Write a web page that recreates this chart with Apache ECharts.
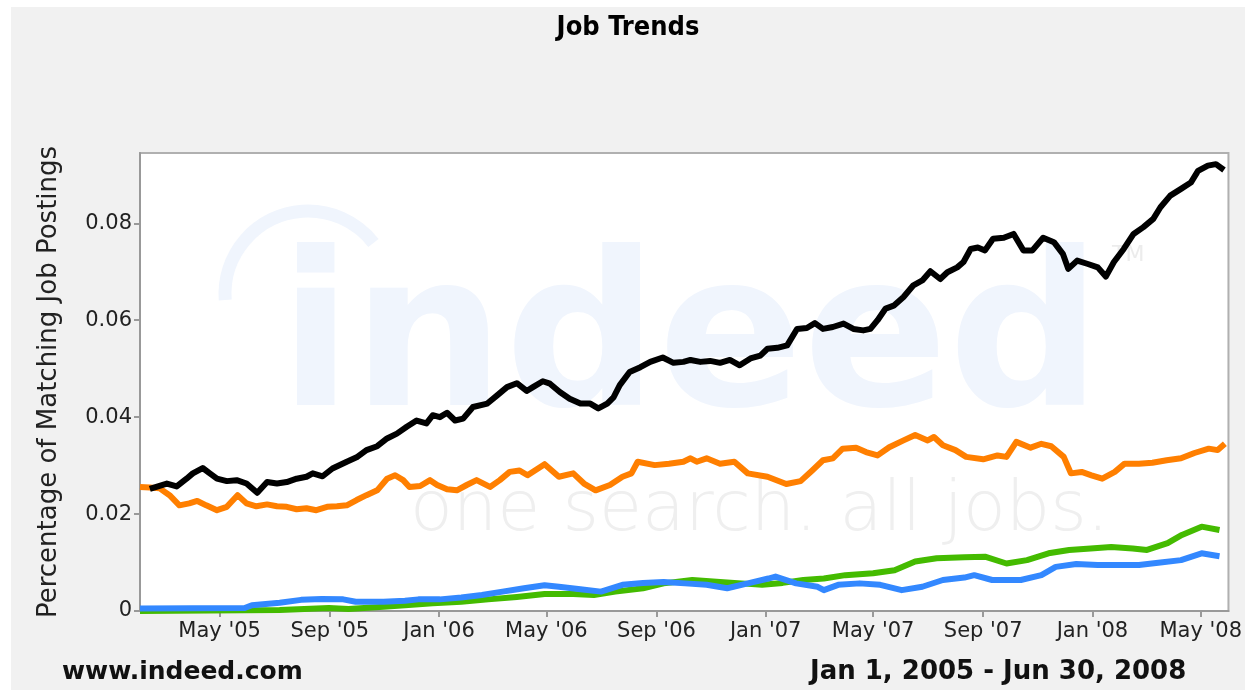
<!DOCTYPE html>
<html>
<head>
<meta charset="utf-8">
<script src="https://cdn.jsdelivr.net/npm/echarts@6/dist/echarts.min.js"></script>
<style>
html,body{margin:0;padding:0;background:#ffffff;width:1245px;height:690px;overflow:hidden;}
#c{position:absolute;left:11px;top:7px;width:1234px;height:683px;background:#f1f1f1;}
</style>
</head>
<body>
<div id="c"></div>
<script>
// ---- data ----
const titleText = 'Job Trends';
const yAxisTitle = 'Percentage of Matching Job Postings';
const siteText = 'www.indeed.com';
const rangeText = 'Jan 1, 2005 - Jun 30, 2008';

const xMinDate = '2005-02-01';
const xMaxDate = '2008-06-01';
const xTickDates = ['2005-05-01','2005-09-01','2006-01-01','2006-05-01','2006-09-01','2007-01-01','2007-05-01','2007-09-01','2008-01-01','2008-05-01'];
const xTickLabels = ["May '05","Sep '05","Jan '06","May '06","Sep '06","Jan '07","May '07","Sep '07","Jan '08","May '08"];
const yTicks = [0, 0.02, 0.04, 0.06, 0.08];
const yMax = 0.0945;

const blackPoints = [
['2005-02-12',0.0252],['2005-03-03',0.0263],['2005-03-14',0.0257],['2005-03-25',0.0273],['2005-04-01',0.0284],
['2005-04-12',0.0295],['2005-04-20',0.0284],['2005-04-28',0.0273],['2005-05-09',0.0268],['2005-05-20',0.0270],
['2005-05-31',0.0263],['2005-06-12',0.0244],['2005-06-23',0.0266],['2005-07-04',0.0263],['2005-07-15',0.0266],
['2005-07-26',0.0273],['2005-08-06',0.0277],['2005-08-13',0.0284],['2005-08-24',0.0278],['2005-09-04',0.0294],
['2005-09-20',0.0308],['2005-10-01',0.0317],['2005-10-12',0.0332],['2005-10-24',0.0340],['2005-11-04',0.0356],
['2005-11-15',0.0366],['2005-11-26',0.0380],['2005-12-07',0.0393],['2005-12-18',0.0387],['2005-12-25',0.0404],
['2006-01-02',0.0400],['2006-01-10',0.0409],['2006-01-19',0.0393],['2006-01-28',0.0397],['2006-02-08',0.0421],
['2006-02-24',0.0428],['2006-03-07',0.0445],['2006-03-18',0.0462],['2006-03-29',0.0470],['2006-04-09',0.0454],
['2006-04-16',0.0462],['2006-04-27',0.0474],['2006-05-05',0.0469],['2006-05-16',0.0452],['2006-05-27',0.0438],
['2006-06-08',0.0428],['2006-06-19',0.0428],['2006-06-28',0.0418],['2006-07-08',0.0428],['2006-07-15',0.0441],
['2006-07-22',0.0466],['2006-08-02',0.0493],['2006-08-14',0.0503],['2006-08-25',0.0514],['2006-09-08',0.0523],
['2006-09-20',0.0512],['2006-10-01',0.0514],['2006-10-09',0.0518],['2006-10-20',0.0514],['2006-10-31',0.0516],
['2006-11-11',0.0512],['2006-11-22',0.0518],['2006-12-03',0.0507],['2006-12-15',0.0521],['2006-12-26',0.0527],
['2007-01-03',0.0541],['2007-01-14',0.0543],['2007-01-25',0.0548],['2007-02-05',0.0582],['2007-02-16',0.0584],
['2007-02-25',0.0594],['2007-03-06',0.0582],['2007-03-17',0.0586],['2007-03-29',0.0593],['2007-04-09',0.0582],
['2007-04-20',0.0579],['2007-04-28',0.0582],['2007-05-06',0.0600],['2007-05-15',0.0624],['2007-05-24',0.0630],
['2007-06-04',0.0648],['2007-06-15',0.0672],['2007-06-25',0.0682],['2007-07-04',0.0701],['2007-07-15',0.0685],
['2007-07-23',0.0699],['2007-08-03',0.0709],['2007-08-10',0.0720],['2007-08-18',0.0747],['2007-08-26',0.0750],
['2007-09-03',0.0744],['2007-09-12',0.0768],['2007-09-24',0.0770],['2007-10-05',0.0778],['2007-10-16',0.0744],
['2007-10-26',0.0744],['2007-11-07',0.0770],['2007-11-19',0.0761],['2007-11-29',0.0737],['2007-12-05',0.0706],
['2007-12-15',0.0723],['2007-12-27',0.0716],['2008-01-07',0.0709],['2008-01-16',0.0690],['2008-01-25',0.0720],
['2008-02-05',0.0747],['2008-02-16',0.0778],['2008-02-27',0.0792],['2008-03-09',0.0809],['2008-03-17',0.0833],
['2008-03-28',0.0857],['2008-04-09',0.0871],['2008-04-20',0.0884],['2008-04-28',0.0908],['2008-05-09',0.0919],
['2008-05-18',0.0922],['2008-05-27',0.0910]
];

const orangePoints = [
['2005-02-01',0.0256],['2005-02-12',0.0255],['2005-02-23',0.0253],['2005-03-06',0.0239],['2005-03-17',0.0218],
['2005-03-28',0.0222],['2005-04-06',0.0227],['2005-04-16',0.0218],['2005-04-28',0.0208],['2005-05-09',0.0215],
['2005-05-21',0.0239],['2005-05-31',0.0222],['2005-06-11',0.0216],['2005-06-23',0.0220],['2005-07-04',0.0216],
['2005-07-15',0.0215],['2005-07-26',0.0210],['2005-08-06',0.0212],['2005-08-17',0.0208],['2005-08-29',0.0215],
['2005-09-09',0.0216],['2005-09-20',0.0218],['2005-10-01',0.0229],['2005-10-12',0.0239],['2005-10-24',0.0249],
['2005-11-04',0.0273],['2005-11-13',0.0280],['2005-11-22',0.0270],['2005-11-29',0.0256],['2005-12-11',0.0258],
['2005-12-22',0.0270],['2005-12-30',0.0260],['2006-01-10',0.0251],['2006-01-21',0.0249],['2006-02-01',0.0260],
['2006-02-12',0.0270],['2006-02-27',0.0256],['2006-03-10',0.0270],['2006-03-21',0.0287],['2006-04-01',0.0290],
['2006-04-10',0.0280],['2006-04-29',0.0303],['2006-05-15',0.0277],['2006-05-31',0.0284],['2006-06-12',0.0263],
['2006-06-25',0.0249],['2006-07-11',0.0260],['2006-07-25',0.0277],['2006-08-04',0.0284],['2006-08-11',0.0308],
['2006-08-30',0.0301],['2006-09-15',0.0304],['2006-10-01',0.0308],['2006-10-09',0.0315],['2006-10-16',0.0308],
['2006-10-27',0.0315],['2006-11-11',0.0304],['2006-11-27',0.0308],['2006-12-12',0.0284],['2007-01-03',0.0277],
['2007-01-24',0.0262],['2007-02-09',0.0268],['2007-02-22',0.0290],['2007-03-06',0.0311],['2007-03-17',0.0315],
['2007-03-28',0.0335],['2007-04-12',0.0337],['2007-04-23',0.0328],['2007-05-06',0.0321],['2007-05-19',0.0338],
['2007-06-04',0.0352],['2007-06-17',0.0363],['2007-07-01',0.0352],['2007-07-08',0.0359],['2007-07-18',0.0342],
['2007-08-01',0.0332],['2007-08-13',0.0318],['2007-09-01',0.0313],['2007-09-17',0.0321],['2007-09-27',0.0318],
['2007-10-08',0.0349],['2007-10-24',0.0337],['2007-11-05',0.0345],['2007-11-16',0.0340],['2007-11-30',0.0318],
['2007-12-08',0.0284],['2007-12-20',0.0287],['2007-12-31',0.0280],['2008-01-12',0.0273],['2008-01-26',0.0287],
['2008-02-06',0.0304],['2008-02-22',0.0304],['2008-03-08',0.0306],['2008-03-24',0.0311],['2008-04-09',0.0315],
['2008-04-24',0.0326],['2008-05-10',0.0335],['2008-05-20',0.0332],['2008-05-28',0.0345]
];

const greenPoints = [
['2005-02-01',0.0000],['2005-07-07',0.0002],['2005-08-31',0.0006],['2005-09-22',0.0004],['2005-10-31',0.0009],
['2005-11-24',0.0012],['2005-12-25',0.0016],['2006-01-26',0.0019],['2006-02-25',0.0024],['2006-03-29',0.0029],
['2006-04-29',0.0035],['2006-05-31',0.0035],['2006-06-23',0.0033],['2006-07-17',0.0040],['2006-08-17',0.0047],
['2006-09-09',0.0057],['2006-10-11',0.0064],['2006-11-11',0.0060],['2006-12-05',0.0057],['2006-12-28',0.0054],
['2007-01-20',0.0058],['2007-02-12',0.0064],['2007-03-07',0.0067],['2007-03-31',0.0074],['2007-05-01',0.0078],
['2007-05-25',0.0084],['2007-06-17',0.0102],['2007-07-11',0.0109],['2007-08-11',0.0111],['2007-09-03',0.0112],
['2007-09-27',0.0098],['2007-10-20',0.0105],['2007-11-13',0.0119],['2007-12-06',0.0126],['2007-12-30',0.0129],
['2008-01-22',0.0132],['2008-02-15',0.0129],['2008-03-02',0.0126],['2008-03-25',0.0140],['2008-04-10',0.0157],
['2008-05-02',0.0174],['2008-05-22',0.0167]
];

const bluePoints = [
['2005-02-01',0.0005],['2005-05-29',0.0006],['2005-06-06',0.0012],['2005-07-07',0.0017],['2005-07-31',0.0023],
['2005-08-23',0.0025],['2005-09-16',0.0024],['2005-09-30',0.0019],['2005-10-31',0.0019],['2005-11-24',0.0021],
['2005-12-09',0.0024],['2006-01-02',0.0024],['2006-01-26',0.0028],['2006-02-18',0.0033],['2006-03-13',0.0040],
['2006-04-06',0.0047],['2006-04-29',0.0053],['2006-05-15',0.0050],['2006-06-08',0.0045],['2006-07-01',0.0040],
['2006-07-25',0.0054],['2006-08-17',0.0058],['2006-09-09',0.0060],['2006-10-03',0.0057],['2006-10-27',0.0054],
['2006-11-19',0.0047],['2006-12-12',0.0057],['2007-01-04',0.0067],['2007-01-12',0.0071],['2007-02-04',0.0057],
['2007-02-28',0.0050],['2007-03-07',0.0043],['2007-03-23',0.0054],['2007-04-16',0.0057],['2007-05-09',0.0054],
['2007-06-02',0.0043],['2007-06-25',0.0050],['2007-07-18',0.0064],['2007-08-11',0.0069],['2007-08-22',0.0074],
['2007-09-11',0.0064],['2007-10-13',0.0064],['2007-11-05',0.0074],['2007-11-21',0.0091],['2007-12-14',0.0097],
['2008-01-07',0.0095],['2008-01-30',0.0095],['2008-02-22',0.0095],['2008-03-17',0.0100],['2008-04-09',0.0105],
['2008-05-02',0.0119],['2008-05-22',0.0113]
];

// ---- helpers ----
function toTime(s) {
  const p = s.split('-').map(Number);
  return new Date(p[0], p[1] - 1, p[2]).getTime();
}
const tickTimes = xTickDates.map(toTime);
const tickLabelMap = {};
tickTimes.forEach((t, i) => { tickLabelMap[t] = xTickLabels[i]; });
function toSeries(points) { return points.map(p => [toTime(p[0]), p[1]]); }

const FONT = 'DejaVu Sans';
const chart = echarts.init(document.getElementById('c'), null, { renderer: 'canvas' });

const LW = 6;
chart.setOption({
  animation: false,
  backgroundColor: '#f1f1f1',
  textStyle: { fontFamily: FONT },
  title: [
    { text: titleText, left: 'center', top: 7, padding: 0,
      textStyle: { fontFamily: '"DejaVu Sans Condensed", "DejaVu Sans"', fontSize: 27, fontWeight: 'bold', color: '#000' } },
    { text: siteText, left: 51, top: 653, padding: 0,
      textStyle: { fontFamily: FONT, fontSize: 25, fontWeight: 'bold', color: '#111' } },
    { text: rangeText, left: 799, top: 652, padding: 0,
      textStyle: { fontFamily: FONT, fontSize: 26, fontWeight: 'bold', color: '#111' } }
  ],
  graphic: [
    { type: 'arc', z: 1, silent: true,
      shape: { cx: 297, cy: 287, r: 83, startAngle: 3.07, endAngle: 5.62, clockwise: true },
      style: { stroke: '#f0f5fd', lineWidth: 13, fill: null } },
    { type: 'text', z: 1, silent: true, x: 268, y: 342,
      style: { text: 'indeed', font: 'bold 214px "DejaVu Sans"', fill: '#f0f5fd', align: 'left', verticalAlign: 'middle' } },
    { type: 'text', z: 1, silent: true, x: 1101, y: 248,
      style: { text: 'TM', font: '22px "DejaVu Sans"', fill: '#ececec', align: 'left', verticalAlign: 'middle' } },
    { type: 'text', z: 1, silent: true, x: 399, y: 505,
      style: { text: 'one search. all jobs.', font: '200 70px "DejaVu Sans"', fill: '#efefef', align: 'left', verticalAlign: 'middle' } }
  ],
  grid: {
    left: 129, top: 146, right: 16, bottom: 79,
    show: true, backgroundColor: '#ffffff', borderColor: '#b0b0b0', borderWidth: 2
  },
  xAxis: {
    type: 'value',
    min: toTime(xMinDate),
    max: toTime(xMaxDate),
    axisLine: { show: true, lineStyle: { color: '#999', width: 2 } },
    axisTick: { show: true, customValues: tickTimes, length: 6, lineStyle: { color: '#999', width: 2 } },
    axisLabel: {
      customValues: tickTimes,
      formatter: v => tickLabelMap[v] || '',
      fontFamily: FONT, fontSize: 21, color: '#222', margin: 10
    },
    splitLine: { show: false }
  },
  yAxis: {
    type: 'value',
    min: 0, max: yMax,
    name: yAxisTitle,
    nameLocation: 'middle',
    nameRotate: 90,
    nameGap: 78,
    nameTextStyle: { fontFamily: FONT, fontSize: 26, color: '#222' },
    axisLine: { show: true, lineStyle: { color: '#999', width: 2 } },
    axisTick: { show: true, customValues: yTicks, length: 6, lineStyle: { color: '#999', width: 2 } },
    axisLabel: {
      customValues: yTicks,
      formatter: v => (v === 0 ? '0' : v.toFixed(2)),
      fontFamily: FONT, fontSize: 21, color: '#222', margin: 8
    },
    splitLine: { show: false }
  },
  series: [
    { name: 'orange', type: 'line', data: toSeries(orangePoints), showSymbol: false, z: 3,
      lineStyle: { color: '#ff7f00', width: LW, join: 'round' }, itemStyle: { color: '#ff7f00' } },
    { name: 'green', type: 'line', data: toSeries(greenPoints), showSymbol: false, z: 3,
      lineStyle: { color: '#44bb00', width: LW, join: 'round' }, itemStyle: { color: '#44bb00' } },
    { name: 'blue', type: 'line', data: toSeries(bluePoints), showSymbol: false, z: 4,
      lineStyle: { color: '#3388ff', width: LW, join: 'round' }, itemStyle: { color: '#3388ff' } },
    { name: 'black', type: 'line', data: toSeries(blackPoints), showSymbol: false, z: 5,
      lineStyle: { color: '#000000', width: LW, join: 'round' }, itemStyle: { color: '#000000' } }
  ]
});
</script>
</body>
</html>
